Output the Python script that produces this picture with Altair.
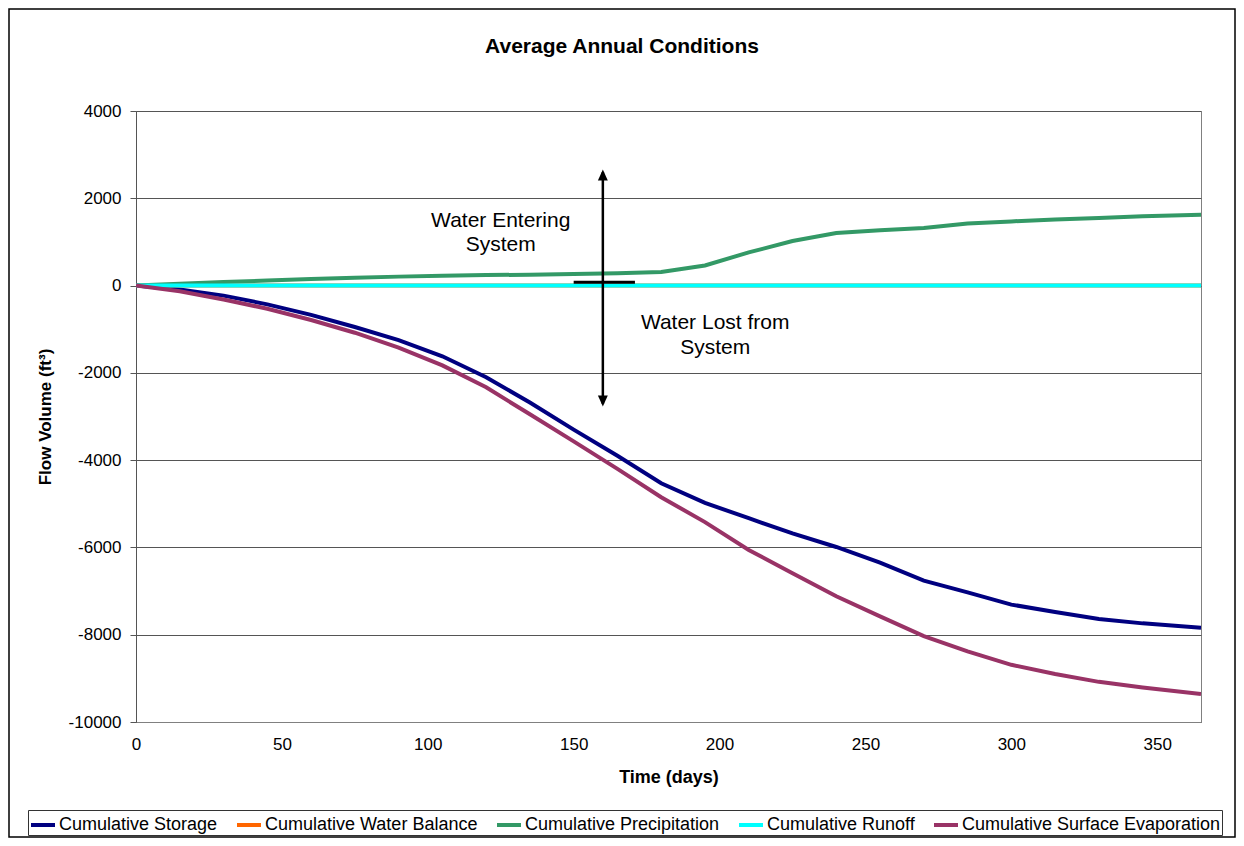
import altair as alt
import pandas as pd

# ---------------- data ----------------
days = [0, 15, 30, 45, 60, 75, 90, 105, 120, 135, 150, 165, 180, 195,
        210, 225, 240, 255, 270, 285, 300, 315, 330, 345, 365]
storage = [0, -90, -230, -430, -670, -950, -1250, -1620, -2100, -2680, -3300,
           -3900, -4530, -4980, -5330, -5680, -5990, -6350, -6760, -7030,
           -7310, -7480, -7640, -7740, -7840]
balance = [0, 0, 0, 0, 0, 0, 0, 0, 0, 0, 0, 0, 0, 0, 0, 0, 0, 0, 0, 0, 0, 0, 0, 0, 0]
precip = [0, 40, 80, 115, 150, 180, 205, 225, 240, 250, 265, 285, 310, 460,
          760, 1020, 1205, 1270, 1320, 1420, 1470, 1515, 1550, 1590, 1620]
runoff = [0, 0, 0, 0, 0, 0, 0, 0, 0, 0, 0, 0, 0, 0, 0, 0, 0, 0, 0, 0, 0, 0, 0, 0, 0]
evap = [0, -130, -320, -530, -790, -1080, -1420, -1830, -2330, -2950, -3570,
        -4200, -4850, -5420, -6060, -6590, -7120, -7580, -8030, -8380, -8690,
        -8900, -9080, -9210, -9360]

series_names = ["Cumulative Storage", "Cumulative Water Balance",
                "Cumulative Precipitation", "Cumulative Runoff",
                "Cumulative Surface Evaporation"]
series_values = [storage, balance, precip, runoff, evap]

x_ticks = [0, 50, 100, 150, 200, 250, 300, 350]
y_ticks = [-10000, -8000, -6000, -4000, -2000, 0, 2000, 4000]

chart_title = "Average Annual Conditions"

# annotation anchors (in data units)
arrow_day = [160]
arrow_top = [2660]
arrow_bottom = [-2770]
bar_days = [150, 171]
bar_value = [75]
note_days = [125, 125, 198.5, 198.5]
note_values = [1480, 940, -850, -1420]
note_texts = ["Water Entering", "System", "Water Lost from", "System"]

# ---------------- styles ----------------
colors = ["#000080", "#FF6600", "#339966", "#00FFFF", "#993366"]
FONT = "Liberation Sans"
W, H = 1065, 611

rows = []
for name, vals in zip(series_names, series_values):
    for d, v in zip(days, vals):
        rows.append({"day": d, "value": v, "series": name})
df = pd.DataFrame(rows)

x_enc = alt.X("day:Q",
              scale=alt.Scale(domain=[0, 365], nice=False, zero=False),
              axis=alt.Axis(values=x_ticks, title="Time (days)", grid=False,
                            ticks=False, tickSize=0, labelPadding=14,
                            domainColor="#808080", labelFontSize=17,
                            titleFontSize=18, titleFontWeight="bold",
                            titlePadding=16, labelColor="black",
                            titleColor="black", labelFlush=False,
                            labelExpr="'' + datum.value"))
y_enc = alt.Y("value:Q",
              scale=alt.Scale(domain=[-10000, 4000], nice=False, zero=False),
              axis=alt.Axis(values=y_ticks, title="Flow Volume (ft³)", grid=True,
                            gridColor="#555555", gridWidth=1, tickSize=6,
                            tickColor="#555555", labelPadding=9,
                            domainColor="#555555", labelFontSize=17,
                            titleFontSize=17, titleFontWeight="bold",
                            titleX=-91, titleY=305.5, titleAngle=270,
                            titleAlign="center", titleBaseline="middle",
                            labelColor="black", titleColor="black",
                            labelFlush=False, labelExpr="'' + datum.value"))
color_enc = alt.Color("series:N",
                      scale=alt.Scale(domain=series_names, range=colors),
                      legend=alt.Legend(orient="none", legendX=-108, legendY=699,
                                        direction="horizontal", title=None,
                                        symbolType="stroke", symbolSize=576,
                                        symbolStrokeWidth=4, labelFont=FONT,
                                        labelFontSize=18, labelOffset=2,
                                        columnPadding=11, padding=1,
                                        strokeColor="#333333", fillColor="white",
                                        labelLimit=400, labelColor="black"))

base = alt.Chart(df)

frame = alt.Chart(alt.Data(values=[{"k": 1}])).mark_rect(
    fill=None, stroke="black", strokeWidth=1.5
).encode(x=alt.value(-127), x2=alt.value(W + 34), y=alt.value(-102), y2=alt.value(H + 115))

title_mark = alt.Chart(alt.Data(values=[{"t": chart_title}])).mark_text(
    font=FONT, fontSize=21, fontWeight="bold", color="black",
    align="center", baseline="middle"
).encode(x=alt.value(486), y=alt.value(-64), text="t:N")

lines = []
for name in series_names:
    lines.append(
        base.transform_filter(alt.datum.series == name)
        .mark_line(strokeWidth=4, clip=True)
        .encode(x=x_enc, y=y_enc, color=color_enc)
    )

bar_df = pd.DataFrame({"day": [bar_days[0]], "day2": [bar_days[1]], "value": bar_value})
bar = alt.Chart(bar_df).mark_rule(color="black", strokeWidth=3).encode(
    x=x_enc, x2="day2:Q", y=y_enc)

arrow_df = pd.DataFrame({"day": arrow_day, "value": [arrow_bottom[0] + 60],
                         "value2": [arrow_top[0] - 60]})
arrow = alt.Chart(arrow_df).mark_rule(color="black", strokeWidth=2.5).encode(
    x=x_enc, y=y_enc, y2="value2:Q")

head_up = alt.Chart(pd.DataFrame({"day": arrow_day, "value": arrow_top})).mark_point(
    shape="M0,0L0.9,2L-0.9,2Z", size=121, filled=True, color="black", opacity=1
).encode(x=x_enc, y=y_enc)
head_down = alt.Chart(pd.DataFrame({"day": arrow_day, "value": arrow_bottom})).mark_point(
    shape="M0,0L0.9,-2L-0.9,-2Z", size=121, filled=True, color="black", opacity=1
).encode(x=x_enc, y=y_enc)

notes = alt.Chart(pd.DataFrame({"day": note_days, "value": note_values,
                                "text": note_texts})).mark_text(
    font=FONT, fontSize=21, color="black", align="center", baseline="middle"
).encode(x=x_enc, y=y_enc, text="text:N")

chart = alt.layer(frame, title_mark, *lines, bar, arrow, head_up, head_down, notes).properties(
    width=W, height=H,
    autosize=alt.AutoSizeParams(type="none"),
    padding={"left": 128, "top": 103, "right": 35, "bottom": 116},
).configure(font=FONT).configure_view(stroke="#808080", strokeWidth=1)

chart.save("out.html", embed_options={"renderer": "svg", "actions": False})
